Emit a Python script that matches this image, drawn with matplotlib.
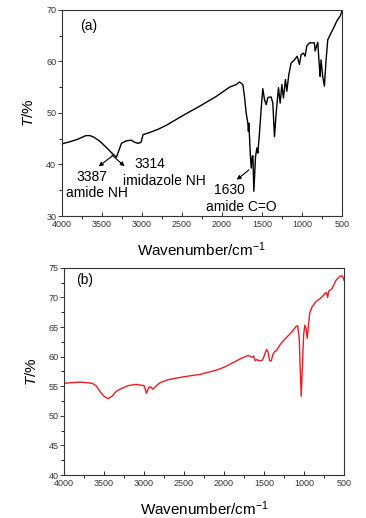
import numpy as np
import matplotlib
matplotlib.use("Agg")
import matplotlib.pyplot as plt
from matplotlib.ticker import MultipleLocator

plt.rcParams['font.family'] = ['Liberation Sans', 'DejaVu Sans']
plt.rcParams['mathtext.fontset'] = 'custom'
plt.rcParams['mathtext.rm'] = 'Liberation Sans'
plt.rcParams['mathtext.it'] = 'Liberation Sans:italic'

# ---- panel (a) : black spectrum ----
wn_a = [4000, 3900, 3800, 3700, 3650, 3600, 3525, 3450, 3380, 3318,
        3290, 3255, 3193, 3130, 3089, 3047, 3010, 2985, 2902, 2800,
        2694, 2486, 2278, 2070, 1904, 1820, 1779, 1737, 1717, 1696,
        1675, 1668, 1662, 1645, 1633, 1620, 1612, 1600, 1579, 1562,
        1550, 1530, 1505, 1488, 1467, 1446, 1425, 1384, 1363, 1342,
        1321, 1292, 1271, 1250, 1230, 1205, 1188, 1163, 1134, 1092,
        1059, 1030, 1009, 980, 959, 938, 905, 843, 834, 801,
        781, 772, 760, 739, 718, 697, 676, 635, 593, 564,
        540, 520, 500]
T_a = [44.0, 44.4, 44.9, 45.6, 45.6, 45.3, 44.5, 43.4, 42.3, 41.4,
       42.6, 44.1, 44.6, 44.7, 44.3, 44.1, 44.3, 45.8, 46.2, 46.8,
       47.6, 49.5, 51.3, 53.2, 55.0, 55.5, 56.0, 55.5, 53.2, 50.0,
       48.0, 46.4, 48.0, 42.2, 39.3, 41.5, 41.7, 34.8, 41.5, 43.2,
       42.2, 46.1, 51.5, 54.7, 52.6, 51.6, 53.0, 53.1, 51.9, 45.4,
       50.0, 54.9, 51.9, 55.5, 52.9, 56.5, 54.2, 57.4, 59.7, 60.3,
       61.0, 59.4, 61.3, 61.6, 61.0, 63.0, 63.6, 63.6, 62.0, 63.7,
       59.0, 57.1, 60.3, 57.1, 55.2, 60.3, 64.2, 65.5, 66.8, 67.8,
       68.4, 68.8, 69.7]

# ---- panel (b) : red spectrum ----
wn_b = [4000, 3800, 3650, 3600, 3550, 3500, 3450, 3400, 3350, 3300,
        3200, 3100, 3000, 2970, 2940, 2920, 2890, 2860, 2800, 2700,
        2500, 2300, 2100, 2000, 1900, 1800, 1700, 1650, 1630, 1610,
        1590, 1560, 1520, 1490, 1470, 1450, 1430, 1410, 1390, 1370,
        1340, 1300, 1250, 1200, 1150, 1100, 1080, 1060, 1050, 1035,
        1020, 1005, 990, 975, 960, 950, 930, 900, 850, 800,
        760, 740, 720, 705, 690, 650, 600, 550, 520, 500]
T_b = [55.5, 55.7, 55.5, 55.1, 54.1, 53.3, 52.9, 53.3, 54.1, 54.5,
       55.1, 55.3, 55.1, 53.8, 54.8, 54.9, 54.5, 54.9, 55.6, 56.1,
       56.6, 57.0, 57.7, 58.2, 58.9, 59.6, 60.2, 59.9, 60.1, 59.3,
       59.5, 59.3, 59.4, 60.4, 61.2, 60.8, 59.3, 59.3, 60.3, 60.8,
       61.1, 62.0, 62.8, 63.5, 64.2, 65.1, 65.2, 63.1, 58.6, 53.3,
       58.6, 63.7, 65.3, 64.8, 63.1, 64.5, 67.3, 68.4, 69.3, 69.8,
       70.3, 70.7, 70.8, 70.0, 71.1, 71.5, 72.9, 73.6, 73.6, 72.9]

xlabel = "Wavenumber/cm$^{-1}$"


def style_axis(ax, ymin, ymax, ymaj, ymin_step):
    ax.set_xlim(4000, 500)
    ax.set_ylim(ymin, ymax)
    ax.xaxis.set_major_locator(MultipleLocator(500))
    ax.xaxis.set_minor_locator(MultipleLocator(250))
    ax.yaxis.set_major_locator(MultipleLocator(ymaj))
    ax.yaxis.set_minor_locator(MultipleLocator(ymin_step))
    ax.tick_params(axis='both', which='major', labelsize=6.5, length=3,
                   width=0.7, colors='#333333')
    ax.tick_params(axis='both', which='minor', length=2, width=0.6)
    ax.tick_params(axis='x', direction='in', pad=3)
    ax.tick_params(axis='y', direction='out', pad=1)
    for s in ax.spines.values():
        s.set_linewidth(0.8)
        s.set_color('#333333')
    ax.set_xlabel(xlabel, fontsize=11, labelpad=8)
    ax.set_ylabel("$T$/%", fontsize=11, labelpad=7)


fig = plt.figure(figsize=(3.66, 5.18), dpi=100)
ax1 = fig.add_axes([0.169, 0.583, 0.765, 0.398])
ax2 = fig.add_axes([0.175, 0.083, 0.765, 0.400])

# (a)
ax1.plot(wn_a, T_a, color='black', lw=1.0)
style_axis(ax1, 30, 70, 10, 5)
ax1.text(3775, 66.8, "(a)", fontsize=10, ha='left', va='center')

arrow = dict(arrowstyle='-|>', color='black', lw=0.8, mutation_scale=6)
ax1.annotate("", xy=(3567, 39.3), xytext=(3340, 42.0), arrowprops=arrow)
ax1.annotate("", xy=(3190, 39.3), xytext=(3400, 42.2), arrowprops=arrow)
ax1.annotate("", xy=(1841, 36.7), xytext=(1633, 39.3), arrowprops=arrow)

ax1.text(3630, 37.6, "3387", fontsize=10, ha='center', va='center')
ax1.text(3560, 34.4, "amide NH", fontsize=10, ha='center', va='center')
ax1.text(2900, 40.0, "3314", fontsize=10, ha='center', va='center')
ax1.text(2715, 36.7, "imidazole NH", fontsize=10, ha='center', va='center')
ax1.text(1900, 35.0, "1630", fontsize=10, ha='center', va='center')
ax1.text(1760, 31.8, "amide C=O", fontsize=10, ha='center', va='center')

# (b)
ax2.plot(wn_b, T_b, color='#ec1c24', lw=1.0)
style_axis(ax2, 40, 75, 5, 2.5)
ax2.text(3850, 73.0, "(b)", fontsize=10, ha='left', va='center')

fig.savefig("out.png", dpi=100)
